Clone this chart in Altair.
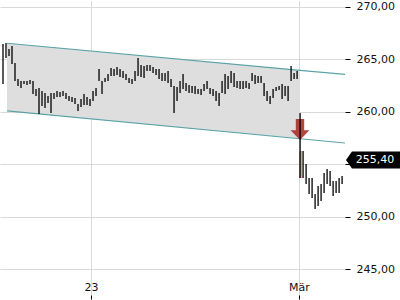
import altair as alt
import pandas as pd

# High / low of each bar
high = [266.47, 266.56, 265.99, 266.28, 264.66, 263.13, 262.94, 262.94, 262.94, 263.03,
        262.94, 262.18, 262.27, 261.98, 261.79, 261.51, 261.79, 261.79, 261.98, 261.89,
        261.98, 261.79, 261.51, 261.41, 261.32, 260.74, 261.22, 261.70, 261.41, 261.22,
        261.98, 262.27, 264.08, 262.94, 263.23, 263.61, 264.18, 264.08, 264.27, 264.08,
        263.89, 263.61, 263.23, 263.13, 263.89, 265.13, 264.47, 264.37, 264.47, 264.47,
        264.27, 264.08, 264.08, 263.70, 263.70, 263.89, 263.13, 262.46, 262.37, 262.94,
        263.61, 262.75, 262.56, 262.46, 262.46, 262.18, 262.18, 262.65, 262.94, 262.27,
        262.18, 261.98, 261.79, 262.94, 263.61, 263.42, 263.89, 263.70, 262.94, 262.94,
        262.94, 262.94, 262.75, 263.70, 263.51, 263.42, 263.42, 262.75, 261.98, 261.51,
        262.18, 262.37, 262.46, 262.65, 262.46, 262.46, 264.37, 263.70, 263.89, 259.89,
        256.26, 255.02, 253.68, 253.68, 252.16, 252.92, 253.11, 254.16, 254.54, 254.35,
        253.40, 253.40, 253.68, 253.87]
low = [262.65, 265.13, 265.32, 264.56, 262.94, 262.46, 262.27, 262.65, 262.56, 262.65,
       261.70, 261.51, 259.79, 260.55, 260.36, 260.84, 259.89, 261.22, 261.41, 261.41,
       261.51, 261.22, 261.03, 260.94, 260.74, 260.08, 260.46, 260.65, 260.65, 260.55,
       261.03, 261.51, 262.94, 261.70, 262.84, 262.94, 263.42, 263.42, 263.51, 263.32,
       263.23, 263.03, 262.75, 262.65, 262.94, 263.42, 263.32, 263.23, 263.89, 263.89,
       263.70, 263.51, 263.13, 262.94, 262.94, 262.75, 262.37, 259.89, 261.03, 261.79,
       262.18, 261.98, 261.79, 261.79, 261.70, 261.70, 261.60, 261.98, 262.18, 261.70,
       261.51, 261.03, 260.55, 261.79, 261.70, 262.18, 262.75, 262.37, 262.27, 262.18,
       262.18, 262.27, 262.18, 262.94, 262.65, 262.75, 262.75, 261.51, 261.03, 260.74,
       261.32, 261.98, 262.08, 261.22, 261.51, 261.03, 262.94, 263.13, 263.13, 253.68,
       253.68, 253.11, 252.16, 251.78, 250.72, 251.01, 251.49, 252.25, 253.11, 252.92,
       251.97, 252.25, 252.25, 253.11]

start = pd.Timestamp("2022-12-07 00:50")
step = pd.Timedelta(hours=20.43)
dates = [(start + i * step).strftime("%Y-%m-%dT%H:%M:%S") for i in range(len(high))]
bars = pd.DataFrame({"date": dates, "high": high, "low": low})

# Trend channel
chan_dates = ["2022-12-08T04:05:00", "2023-03-01T06:48:00", "2023-03-14T01:12:00"]
chan_upper = [266.54, 263.96, 263.57]
chan_lower = [260.08, 257.43, 257.02]
chan = pd.DataFrame({"date": chan_dates, "upper": chan_upper, "lower": chan_lower})
fill = chan.iloc[:2]

# Signal (breakout)
signal = pd.DataFrame({"date": ["2023-03-01T06:48:00"], "y": [258.30]})
candle = pd.DataFrame({"d1": ["2023-03-01T00:00:00"], "d2": ["2023-03-01T22:00:00"],
                       "top": [256.26], "bot": [253.68]})
last_price = pd.DataFrame({"price": [255.40], "label": ["255,40"]})

x_domain = [alt.DateTime(year=2022, month=12, date=6, hours=4, minutes=25),
            alt.DateTime(year=2023, month=3, date=14, hours=1, minutes=12)]
y_domain = [242.52, 270.57]
xs = alt.Scale(domain=x_domain)
ys = alt.Scale(domain=y_domain, zero=False, nice=False)

grid_col = "#d9d9d9"
x_axis = alt.Axis(values=[alt.DateTime(year=2023, month=1, date=1),
                          alt.DateTime(year=2023, month=3, date=1)],
                  labelExpr="month(datum.value)==0 ? '23' : 'Mär'",
                  grid=True, gridColor=grid_col, domain=False, ticks=True,
                  tickColor="#000", tickSize=4, labelPadding=-18, title=None,
                  labelFont="DejaVu Sans", labelFontSize=11, labelColor="#111")
y_axis = alt.Axis(orient="right", values=[245, 250, 255, 260, 265, 270],
                  labelExpr="datum.value==255 ? '' : replace(format(datum.value, '.2f'), '.', ',')",
                  grid=True, gridColor=grid_col, domain=False, tickColor="#000",
                  tickSize=5, labelPadding=6, title=None,
                  labelFont="DejaVu Sans", labelFontSize=11, labelColor="#111")

base_x = alt.X("date:T", scale=xs, axis=x_axis)

area = alt.Chart(fill).mark_area(color="#dedede", opacity=1).encode(
    x=base_x, y=alt.Y("upper:Q", scale=ys, axis=y_axis), y2="lower:Q")
line_u = alt.Chart(chan).mark_line(color="#5aa3a8", strokeWidth=1.2).encode(
    x=alt.X("date:T", scale=xs), y=alt.Y("upper:Q", scale=ys))
line_l = alt.Chart(chan).mark_line(color="#5aa3a8", strokeWidth=1.2).encode(
    x=alt.X("date:T", scale=xs), y=alt.Y("lower:Q", scale=ys))

arrow_path = "M-0.4,-1 L0.4,-1 L0.4,0.05 L0.9,0.05 L0,1 L-0.9,0.05 L-0.4,0.05 Z"
arrow = alt.Chart(signal).mark_point(shape=arrow_path, size=440, filled=True,
                                     color="#a8322c", opacity=0.9, strokeWidth=0).encode(
    x=alt.X("date:T", scale=xs), y=alt.Y("y:Q", scale=ys))
cand = alt.Chart(candle).mark_rect(color="#c86060", opacity=0.6).encode(
    x=alt.X("d1:T", scale=xs), x2="d2:T", y=alt.Y("top:Q", scale=ys), y2="bot:Q")

rules = alt.Chart(bars).mark_rule(color="#000", strokeWidth=1.3).encode(
    x=alt.X("date:T", scale=xs), y=alt.Y("high:Q", scale=ys), y2="low:Q")

tag_path = "M-2.7,0 L-2.1,-0.85 L2.7,-0.85 L2.7,0.85 L-2.1,0.85 Z"
tag = alt.Chart(last_price).mark_point(shape=tag_path, size=400, filled=True,
                                       color="#000", opacity=1, strokeWidth=0).encode(
    x=alt.value(373), y=alt.Y("price:Q", scale=ys))
tag_text = alt.Chart(last_price).mark_text(color="#fff", font="DejaVu Sans", fontSize=11,
                                           align="center", baseline="middle").encode(
    x=alt.value(375), y=alt.Y("price:Q", scale=ys), text="label:N")

chart = alt.layer(area, line_u, line_l, arrow, cand, rules, tag, tag_text).properties(
    width=345, height=294, padding=0, background="#ffffff"
).configure_view(stroke=None)

chart.save("out.html", embed_options={"renderer": "svg", "actions": False})
